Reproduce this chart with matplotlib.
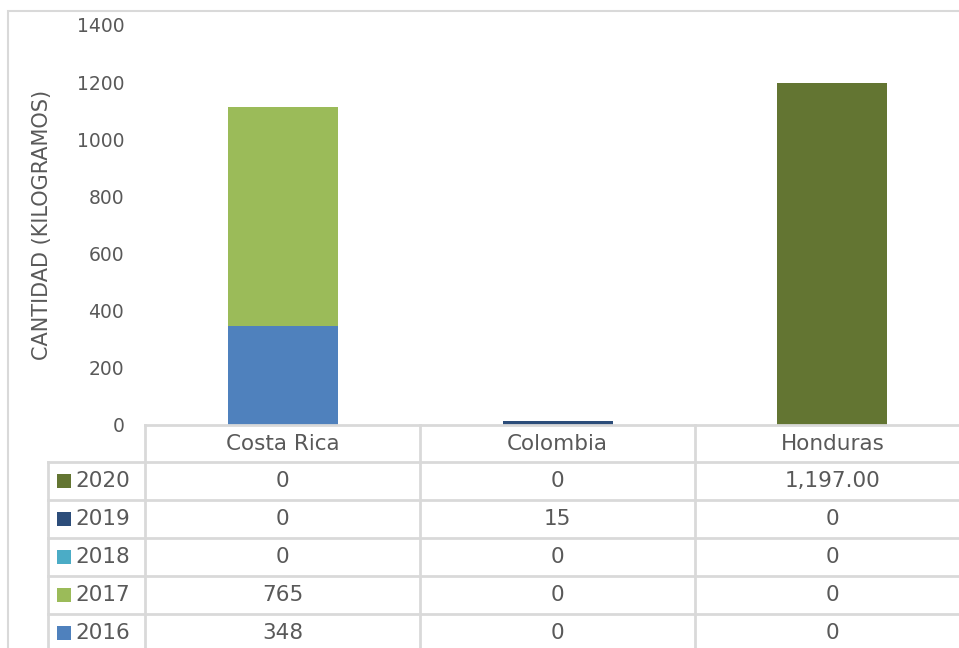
import matplotlib
matplotlib.use("Agg")
import matplotlib.pyplot as plt
from matplotlib.lines import Line2D
from matplotlib.patches import Rectangle

plt.rcParams['font.family'] = ['DejaVu Sans']

categories = ["Costa Rica", "Colombia", "Honduras"]
years = ["2016", "2017", "2018", "2019", "2020"]
v2016 = [348, 0, 0]
v2017 = [765, 0, 0]
v2018 = [0, 0, 0]
v2019 = [0, 15, 0]
v2020 = [0, 0, 1197]
series = [v2016, v2017, v2018, v2019, v2020]
colors = ["#4F81BD", "#9BBB59", "#4BACC6", "#2C4D7A", "#637532"]
# displayed text in the data table (row 2020 Honduras shown with decimals)
labels_2016 = ["348", "0", "0"]
labels_2017 = ["765", "0", "0"]
labels_2018 = ["0", "0", "0"]
labels_2019 = ["0", "15", "0"]
labels_2020 = ["0", "0", "1,197.00"]
table_labels = [labels_2016, labels_2017, labels_2018, labels_2019, labels_2020]
yticks = [0, 200, 400, 600, 800, 1000, 1200, 1400]

W, H = 959, 648
fig = plt.figure(figsize=(W / 100, H / 100), dpi=100)
fig.patch.set_facecolor("white")

def fx(px):
    return px / W

def fy(py):
    return 1 - py / H

# outer chart border
fig.add_artist(Rectangle((fx(8), fy(700)), fx(1100), fy(11) - fy(700),
                         transform=fig.transFigure, fill=False,
                         edgecolor="#D9D9D9", lw=1.5))

ax_left, ax_right, ax_top, ax_bottom = 145, 970, 25, 425
ax = fig.add_axes([fx(ax_left), fy(ax_bottom), fx(ax_right - ax_left), fy(ax_top) - fy(ax_bottom)])

x = list(range(len(categories)))
bottom = [0, 0, 0]
for vals, col in zip(series, colors):
    ax.bar(x, vals, bottom=bottom, width=0.40, color=col, zorder=2)
    bottom = [b + v for b, v in zip(bottom, vals)]

tc = "#595959"
ax.set_xlim(-0.5, len(categories) - 0.5)
ax.set_ylim(0, 1400)
ax.set_yticks(yticks)
ax.set_yticklabels([str(t) for t in yticks], fontsize=13.5, color=tc)
ax.tick_params(axis="y", length=0, pad=15)
ax.set_xticks([])
for s in ax.spines.values():
    s.set_visible(False)
ax.set_ylabel("CANTIDAD (KILOGRAMOS)", fontsize=15, color=tc, labelpad=18)

# data table
line_c = "#D9D9D9"
lw = 2
col_edges = [ax_left + i * (ax_right - ax_left) / 3 for i in range(4)]
row_h = 38
header_top = 425
header_bot = 462
legend_left = 48
fs_tab = 15.5

def hline(x0, x1, y):
    fig.add_artist(Line2D([fx(x0), fx(x1)], [fy(y), fy(y)], transform=fig.transFigure,
                          color=line_c, lw=lw))

def vline(xp, y0, y1):
    fig.add_artist(Line2D([fx(xp), fx(xp)], [fy(y0), fy(y1)], transform=fig.transFigure,
                          color=line_c, lw=lw))

hline(ax_left, ax_right, header_top)
n_rows = len(years)
row_tops = [header_bot + i * row_h for i in range(n_rows + 1)]
for yy in row_tops:
    hline(legend_left, ax_right, yy)
vline(legend_left, header_bot, row_tops[-1])
for xe in col_edges:
    vline(xe, header_top, row_tops[-1])

for i, cat in enumerate(categories):
    cx = (col_edges[i] + col_edges[i + 1]) / 2
    fig.text(fx(cx), fy((header_top + header_bot) / 2), cat, ha="center", va="center",
             fontsize=fs_tab, color=tc)

row_order = list(range(n_rows))[::-1]  # 2020 on top
for r, si in enumerate(row_order):
    ytop = row_tops[r]
    ymid = ytop + row_h / 2
    fig.add_artist(Rectangle((fx(57), fy(ymid + 7)), fx(14), fy(ymid - 7) - fy(ymid + 7),
                             transform=fig.transFigure, color=colors[si], lw=0))
    fig.text(fx(75), fy(ymid), years[si], ha="left", va="center", fontsize=fs_tab, color=tc)
    for i in range(len(categories)):
        cx = (col_edges[i] + col_edges[i + 1]) / 2
        fig.text(fx(cx), fy(ymid), table_labels[si][i], ha="center", va="center",
                 fontsize=fs_tab, color=tc)

fig.savefig("out.png", dpi=100)
